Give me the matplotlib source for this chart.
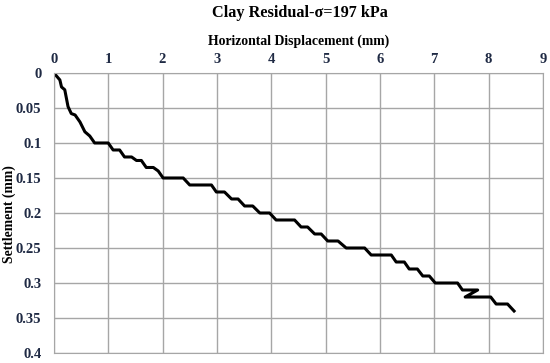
import matplotlib.pyplot as plt

# Horizontal displacement (mm) and settlement (mm)
disp = [0, 0.11, 0.14, 0.20, 0.26, 0.32, 0.39, 0.48, 0.57, 0.66, 0.75, 1.00,
        1.09, 1.21, 1.30, 1.43, 1.52, 1.61, 1.70, 1.83, 1.92, 2.01, 2.38, 2.50,
        2.90, 2.99, 3.14, 3.27, 3.39, 3.51, 3.66, 3.79, 3.97, 4.09, 4.43, 4.55,
        4.67, 4.80, 4.92, 5.04, 5.23, 5.38, 5.72, 5.84, 6.21, 6.30, 6.45, 6.54,
        6.69, 6.79, 6.91, 7.02, 7.43, 7.52, 7.80, 7.57, 8.04, 8.14, 8.35, 8.47]
settle = [0, 0.010, 0.020, 0.024, 0.048, 0.058, 0.060, 0.070, 0.084, 0.090,
          0.100, 0.100, 0.110, 0.110, 0.120, 0.120, 0.125, 0.125, 0.135, 0.135,
          0.140, 0.150, 0.150, 0.160, 0.160, 0.170, 0.170, 0.180, 0.180, 0.190,
          0.190, 0.200, 0.200, 0.210, 0.210, 0.220, 0.220, 0.230, 0.230, 0.240,
          0.240, 0.250, 0.250, 0.260, 0.260, 0.270, 0.270, 0.280, 0.280, 0.290,
          0.290, 0.300, 0.300, 0.310, 0.310, 0.320, 0.320, 0.330, 0.330, 0.340]

xticks = list(range(10))
yticks = [0, 0.05, 0.1, 0.15, 0.2, 0.25, 0.3, 0.35, 0.4]
ytick_labels = ["0", "0.05", "0.1", "0.15", "0.2", "0.25", "0.3", "0.35", "0.4"]

plt.rcParams["font.family"] = ["Liberation Serif", "DejaVu Serif"]

fig = plt.figure(figsize=(5.5, 3.63), dpi=100)
ax = fig.add_axes([0.098, 0.0275, 0.889, 0.7715])

ax.plot(disp, settle, color="black", linewidth=2.2, solid_joinstyle="round")

ax.set_xlim(0, 9)
ax.set_ylim(0.4, 0)
ax.set_xticks(xticks)
ax.set_yticks(yticks)
ax.set_yticklabels(ytick_labels)
ax.xaxis.tick_top()
ax.xaxis.set_label_position("top")
ax.tick_params(length=0, labelsize=10.5, colors="#1f2a44")
ax.tick_params(axis="y", pad=9)
ax.tick_params(axis="x", pad=5)
for lbl in ax.get_xticklabels() + ax.get_yticklabels():
    lbl.set_fontweight("bold")

ax.grid(color="#a6a6a6", linewidth=1)
for s in ax.spines.values():
    s.set_color("#a6a6a6")

ax.set_xlabel("Horizontal Displacement (mm)", fontsize=9.9, fontweight="bold", labelpad=6)
fig.text(0.016, 0.41, "Settlement (mm)", rotation=90, ha="center", va="center",
         fontsize=9.9, fontweight="bold")
fig.text(0.545, 0.965, "Clay Residual-σ=197 kPa", ha="center", va="center",
         fontsize=11.7, fontweight="bold")

fig.savefig("out.png", dpi=100)
